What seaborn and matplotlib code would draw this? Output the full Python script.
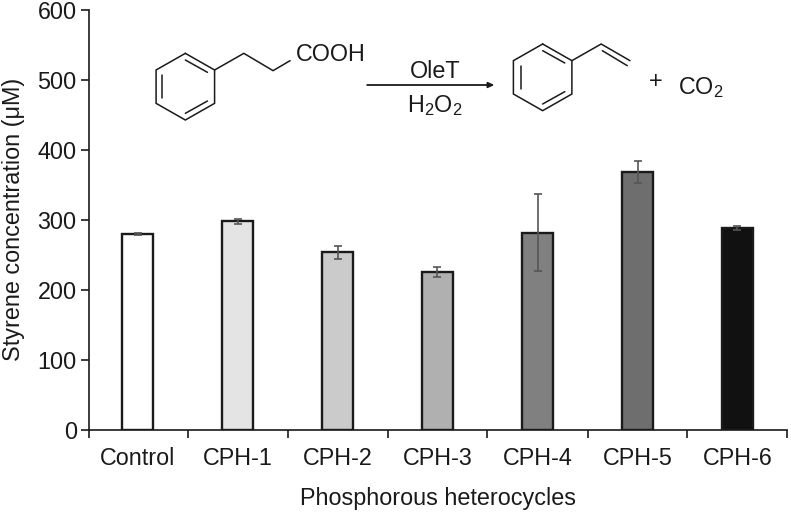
"""
Styrene concentration per phosphorous heterocycle, with the reaction scheme on top.
"""

import matplotlib
matplotlib.use("Agg")
import matplotlib.pyplot as plt
import pandas as pd
import seaborn as sns

categories = ["Control", "CPH-1", "CPH-2", "CPH-3", "CPH-4", "CPH-5", "CPH-6"]
styrene = [280, 298, 254, 226, 282, 369, 289]
errors = [1, 4, 9, 7.5, 55, 16, 3]
bar_colors = ["#ffffff", "#e4e4e4", "#cbcbcb", "#b0b0b0", "#808080", "#6e6e6e", "#111111"]
y_ticks = [0, 100, 200, 300, 400, 500, 600]

INK = "#1a1a1a"
FONT_SIZE = 16.8

sns.set_style("white")
plt.rcParams["font.family"] = ["Liberation Sans", "DejaVu Sans"]
plt.rcParams["mathtext.default"] = "regular"
plt.rcParams["mathtext.fontset"] = "custom"
plt.rcParams["mathtext.rm"] = "Liberation Sans"

df = pd.DataFrame({"category": categories, "styrene": styrene})

fig = plt.figure(figsize=(7.91, 5.14), dpi=100)
ax = fig.add_axes([89 / 791, 1 - 430 / 514, 698.5 / 791, 420 / 514])

sns.barplot(
    data=df,
    x="category",
    y="styrene",
    hue="category",
    palette=bar_colors,
    legend=False,
    width=0.31,
    edgecolor=INK,
    linewidth=1.7,
    saturation=1,
    errorbar=None,
    ax=ax,
)
ax.errorbar(
    range(len(categories)),
    styrene,
    yerr=errors,
    fmt="none",
    ecolor="#555555",
    elinewidth=1.2,
    capsize=3,
    capthick=1.2,
    zorder=5,
)

ax.set_xlim(-0.485, 6.5)
ax.set_ylim(0, 600)
ax.set_yticks(y_ticks)
ax.set_xticks([-0.485] + [i + 0.5 for i in range(len(categories))])
ax.set_xticklabels([])
ax.set_xticks(range(len(categories)), labels=categories, minor=True)
ax.tick_params(axis="x", which="major", length=5.8, width=1.2, color=INK, direction="out", bottom=True)
ax.tick_params(axis="x", which="minor", length=0, labelsize=FONT_SIZE, labelcolor=INK, pad=12)
ax.tick_params(axis="y", length=5.8, width=1.2, color=INK, direction="out", left=True, labelsize=FONT_SIZE, labelcolor=INK, pad=3)

sns.despine(ax=ax)
for side in ["left", "bottom"]:
    ax.spines[side].set_linewidth(1.2)
    ax.spines[side].set_color(INK)

ax.set_xlabel("")
ax.set_ylabel("")
fig.text(13.5 / 791, 1 - 219 / 514, "Styrene concentration (μM)", rotation=90, ha="center", va="center", fontsize=FONT_SIZE, color=INK)
fig.text(438.5 / 791, 1 - 499 / 514, "Phosphorous heterocycles", ha="center", va="center", fontsize=FONT_SIZE, color=INK)

# reaction scheme, drawn on a full-figure overlay in pixel units
scheme = fig.add_axes([0, 0, 1, 1])
scheme.set_xlim(0, 791)
scheme.set_ylim(514, 0)
scheme.axis("off")
scheme.patch.set_alpha(0)


def to_px(point):
    return 130 + point[0] / 2.53, 20 + point[1] / 3


def draw_path(points):
    xs, ys = zip(*[to_px(p) for p in points])
    scheme.plot(xs, ys, color=INK, lw=1.1, solid_capstyle="round", solid_joinstyle="miter")


acid_ring = [(140, 100), (214, 150), (214, 250), (140, 300), (66, 250), (66, 150), (140, 100)]
acid_chain = [(214, 150), (288, 100), (362, 152), (405, 122)]
acid_inner = [[(140, 120), (196, 157)], [(82, 165), (82, 235)], [(140, 280), (196, 243)]]
styrene_ring = [(1044, 72), (1118, 122), (1118, 222), (1044, 272), (970, 222), (970, 122), (1044, 72)]
styrene_vinyl = [(1118, 122), (1192, 72), (1265, 122)]
styrene_inner = [[(1044, 92), (1100, 129)], [(988, 137), (988, 207)], [(1044, 252), (1100, 215)], [(1195, 92), (1258, 137)]]

for path in [acid_ring, acid_chain, styrene_ring, styrene_vinyl] + acid_inner + styrene_inner:
    draw_path(path)

scheme.annotate(
    "",
    xy=to_px((922, 195)),
    xytext=to_px((600, 195)),
    arrowprops=dict(arrowstyle="-|>,head_length=0.35,head_width=0.16", color=INK, lw=1.3, shrinkA=0, shrinkB=0),
)

text_style = dict(ha="center", va="center", fontsize=FONT_SIZE, color=INK)
scheme.text(*to_px((508, 103)), "COOH", **text_style)
scheme.text(*to_px((772, 155)), "OleT", **text_style)
scheme.text(*to_px((772, 258)), "H$_2$O$_2$", **text_style)
scheme.text(*to_px((1330, 185)), "+", **text_style)
scheme.text(*to_px((1444, 202)), "CO$_2$", **text_style)

fig.savefig("out.png", dpi=100)
